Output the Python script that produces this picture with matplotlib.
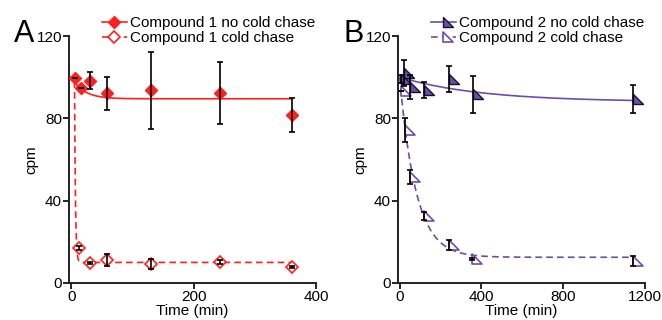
import numpy as np
import matplotlib
matplotlib.use("Agg")
import matplotlib.pyplot as plt
from matplotlib.path import Path

plt.rcParams['font.family'] = ['Liberation Sans', 'DejaVu Sans']

# ---- panel A : compound 1 ----
a_t_nochase = [5, 15, 30, 58, 130, 243, 361]
a_y_nochase = [99.7, 94.6, 98.3, 92.2, 93.6, 92.2, 81.6]
a_e_nochase = [0, 0, 4.2, 8.0, 18.7, 15.0, 8.3]

a_t_chase = [12, 31, 58, 130, 243, 361]
a_y_chase = [16.9, 9.6, 11.2, 9.2, 10.4, 7.9]
a_e_chase = [1.0, 0.4, 3.0, 2.5, 1.0, 0.4]

# fitted curves: (plateau, span, tau, start)
a_fit_nochase = (89.5, 10.5, 20.0, 0.0)
a_fit_chase = (10.0, 88.0, 1.5, 5.0)

# ---- panel B : compound 2 ----
b_t_nochase = [5, 20, 50, 120, 240, 360, 1140]
b_y_nochase = [99.0, 102.0, 95.2, 93.8, 99.0, 91.8, 89.4]
b_e_nochase = [2.0, 6.4, 5.7, 4.0, 6.2, 9.0, 6.9]

b_t_chase = [5, 25, 52, 120, 240, 355, 1140]
b_y_chase = [93.5, 74.3, 51.5, 32.6, 18.5, 11.5, 10.7]
b_e_chase = [0, 6.0, 3.2, 2.0, 2.4, 0.5, 2.3]

b_fit_nochase = (88.0, 12.0, 400.0, 0.0)
b_fit_chase = (12.5, 87.5, 80.0, 0.0)

red = '#ff1f1f'
purple = '#6b4fa8'

# right triangle marker, vertical edge on the data x
tri = Path([(0, 1), (0, -1), (2, -1), (0, 1)], closed=True)


def fit_curve(params, t_end):
    plateau, span, tau, t0 = params
    t = np.linspace(t0, t_end, 400)
    return t, plateau + span * np.exp(-(t - t0) / tau)


def style_axes(ax, xlim, xticks):
    ax.set_xlim(*xlim)
    ax.set_ylim(0, 120)
    ax.set_xticks(xticks)
    ax.set_yticks([0, 40, 80, 120])
    for s in ['top', 'right']:
        ax.spines[s].set_visible(False)
    for s in ['left', 'bottom']:
        ax.spines[s].set_linewidth(1.4)
        ax.spines[s].set_color('#222222')
    ax.tick_params(direction='out', length=4, width=1.2, labelsize=11, pad=1)
    ax.set_xlabel('Time (min)', fontsize=11, labelpad=0)
    ax.set_ylabel('cpm', fontsize=11)
    ax.yaxis.set_label_coords(-0.125, 0.5)


def add_legend(ax, handles, labels):
    ax.legend(handles, labels, loc='upper left', bbox_to_anchor=(0.134, 1.08),
              frameon=False, fontsize=11, handlelength=1.6, handletextpad=0.2,
              labelspacing=0.05, borderpad=0, borderaxespad=0)


fig = plt.figure(figsize=(6.62, 3.2), dpi=100)
axA = fig.add_axes([69 / 662, 37 / 320, 247 / 662, 247 / 320])
axB = fig.add_axes([398 / 662, 37 / 320, 247 / 662, 247 / 320])

# panel A
t, y = fit_curve(a_fit_nochase, 361)
axA.plot(t, y, color=red, lw=1.2, zorder=2)
t, y = fit_curve(a_fit_chase, 361)
axA.plot(t, y, color=red, lw=1.2, ls=(0, (4, 2.5)), zorder=2)
axA.plot(a_t_nochase, a_y_nochase, ls='none', marker='D', ms=6.3,
         mfc=red, mec=red, zorder=3)
axA.plot(a_t_chase, a_y_chase, ls='none', marker='D', ms=6.3,
         mfc='white', mec=red, mew=1.2, zorder=3)
axA.errorbar(a_t_nochase, a_y_nochase, yerr=a_e_nochase, fmt='none',
             ecolor='black', elinewidth=1.2, capsize=2, capthick=1.2, zorder=4)
axA.errorbar(a_t_chase, a_y_chase, yerr=a_e_chase, fmt='none',
             ecolor='black', elinewidth=1.2, capsize=2, capthick=1.2, zorder=4)
hA1, = axA.plot([], [], color=red, lw=1.2, marker='D', ms=6.3, mfc=red, mec=red)
hA2, = axA.plot([], [], color=red, lw=1.2, ls=(0, (4, 2.5)), marker='D', ms=6.3,
                mfc='white', mec=red, mew=1.2)
style_axes(axA, (-4, 400), [0, 200, 400])
add_legend(axA, [hA1, hA2], ['Compound 1 no cold chase', 'Compound 1 cold chase'])

# panel B
t, y = fit_curve(b_fit_nochase, 1140)
axB.plot(t, y, color=purple, lw=1.2, zorder=2)
t, y = fit_curve(b_fit_chase, 1140)
axB.plot(t, y, color=purple, lw=1.2, ls=(0, (4, 2.5)), zorder=2)
axB.plot(b_t_nochase, b_y_nochase, ls='none', marker=tri, ms=14,
         mfc=purple, mec='#1a1030', mew=1.0, zorder=3)
axB.plot(b_t_chase, b_y_chase, ls='none', marker=tri, ms=14,
         mfc='white', mec=purple, mew=1.2, zorder=3)
axB.errorbar(b_t_nochase, b_y_nochase, yerr=b_e_nochase, fmt='none',
             ecolor='black', elinewidth=1.2, capsize=2, capthick=1.2, zorder=4)
axB.errorbar(b_t_chase, b_y_chase, yerr=b_e_chase, fmt='none',
             ecolor='black', elinewidth=1.2, capsize=2, capthick=1.2, zorder=4)
hB1, = axB.plot([], [], color=purple, lw=1.2, marker=tri, ms=14,
                mfc=purple, mec='#1a1030', mew=1.0)
hB2, = axB.plot([], [], color=purple, lw=1.2, ls=(0, (4, 2.5)), marker=tri, ms=14,
                mfc='white', mec=purple, mew=1.2)
style_axes(axB, (-8, 1200), [0, 400, 800, 1200])
add_legend(axB, [hB1, hB2], ['Compound 2 no cold chase', 'Compound 2 cold chase'])

fig.text(14 / 662, 1 - 42 / 320, 'A', fontsize=22, ha='left', va='baseline')
fig.text(343 / 662, 1 - 42 / 320, 'B', fontsize=22, ha='left', va='baseline')

fig.savefig('out.png', dpi=100)
